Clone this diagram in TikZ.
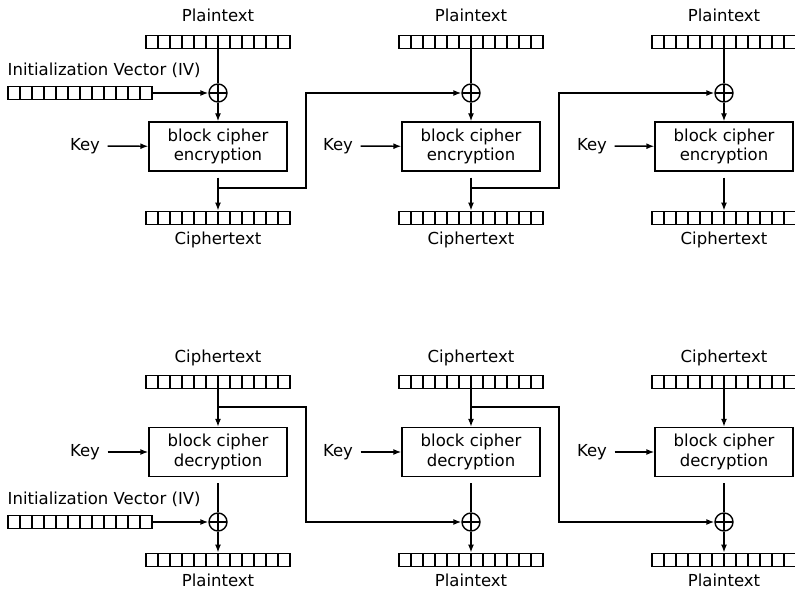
\documentclass[tikz,border=0pt]{standalone}
\usepackage{fontspec}
\setmainfont{DejaVu Sans}
\usepackage{tikz}
\usetikzlibrary{arrows.meta,positioning}
\newcommand{\cbcfont}{\fontsize{9.4}{11}\selectfont}

\begin{document}
\begin{tikzpicture}[line width=0.8pt,
 lbl/.style={font=\cbcfont,inner sep=0pt},
 keylbl/.style={font=\cbcfont,inner sep=4pt},
 reg/.style={draw,inner sep=0pt,minimum width=2.88cm,minimum height=0.27cm,
             path picture={\foreach \k in {1,...,11}
               \draw ([xshift=\k*0.24cm]path picture bounding box.south west)
                  -- ([xshift=\k*0.24cm]path picture bounding box.north west);}},
 xor/.style={circle,draw,inner sep=0pt,minimum size=0.36cm,
             path picture={\draw (path picture bounding box.north) -- (path picture bounding box.south)
                                 (path picture bounding box.west) -- (path picture bounding box.east);}},
 box/.style={draw,align=center,font=\cbcfont,minimum width=2.76cm,minimum height=0.98cm,inner sep=2pt},
 arrow/.style={-{Latex[length=1.6mm,width=1.2mm]}},
 boxout/.style={shorten <=0.12cm}]
 \useasboundingbox (0,0) rectangle (15.9,-11.84);

 % --- encryption row ---
 \node[lbl] (tp1) at (4.36,-0.30) {Plaintext};
 \node[lbl] (tp2) at (9.42,-0.30) {Plaintext};
 \node[lbl] (tp3) at (14.48,-0.30) {Plaintext};
 \node[reg] (tpr1) at (4.36,-0.84) {};
 \node[reg] (tpr2) at (9.42,-0.84) {};
 \node[reg] (tpr3) at (14.48,-0.84) {};
 \node[lbl,anchor=west] (tivl) at (0.14,-1.40) {Initialization Vector (IV)};
 \node[reg] (tivr) at (1.60,-1.86) {};
 \node[xor] (tx1) at (4.36,-1.86) {};
 \node[xor] (tx2) at (9.42,-1.86) {};
 \node[xor] (tx3) at (14.48,-1.86) {};
 \node[box] (enc1) at (4.36,-2.93) {block cipher\\encryption};
 \node[box] (enc2) at (9.42,-2.93) {block cipher\\encryption};
 \node[box] (enc3) at (14.48,-2.93) {block cipher\\encryption};
 \node[keylbl] (tk1) at (1.70,-2.92) {Key};
 \node[keylbl] (tk2) at (6.76,-2.92) {Key};
 \node[keylbl] (tk3) at (11.84,-2.92) {Key};
 \node[reg] (tcr1) at (4.36,-4.36) {};
 \node[reg] (tcr2) at (9.42,-4.36) {};
 \node[reg] (tcr3) at (14.48,-4.36) {};
 \node[lbl] (tc1) at (4.36,-4.80) {Ciphertext};
 \node[lbl] (tc2) at (9.42,-4.80) {Ciphertext};
 \node[lbl] (tc3) at (14.48,-4.80) {Ciphertext};
 \coordinate (tj1) at (4.36,-3.76);
 \coordinate (tj2) at (9.42,-3.76);

 \draw (tpr1) -- (tx1);
 \draw (tpr2) -- (tx2);
 \draw (tpr3) -- (tx3);
 \draw[arrow] (tivr) -- (tx1);
 \draw[arrow] (tx1) -- (enc1);
 \draw[arrow] (tx2) -- (enc2);
 \draw[arrow] (tx3) -- (enc3);
 \draw[arrow,thick] (tk1) -- (enc1);
 \draw[arrow,thick] (tk2) -- (enc2);
 \draw[arrow,thick] (tk3) -- (enc3);
 \draw[arrow,boxout] (enc1) -- (tcr1);
 \draw[arrow,boxout] (enc2) -- (tcr2);
 \draw[arrow,boxout] (enc3) -- (tcr3);
 \draw[arrow] (tj1) -- ++(1.76,0) |- (tx2);
 \draw[arrow] (tj2) -- ++(1.76,0) |- (tx3);

 % --- decryption row ---
 \node[lbl] (bc1) at (4.36,-7.16) {Ciphertext};
 \node[lbl] (bc2) at (9.42,-7.16) {Ciphertext};
 \node[lbl] (bc3) at (14.48,-7.16) {Ciphertext};
 \node[reg] (bcr1) at (4.36,-7.64) {};
 \node[reg] (bcr2) at (9.42,-7.64) {};
 \node[reg] (bcr3) at (14.48,-7.64) {};
 \node[box] (dec1) at (4.36,-9.04) {block cipher\\decryption};
 \node[box] (dec2) at (9.42,-9.04) {block cipher\\decryption};
 \node[box] (dec3) at (14.48,-9.04) {block cipher\\decryption};
 \node[keylbl] (bk1) at (1.70,-9.04) {Key};
 \node[keylbl] (bk2) at (6.76,-9.04) {Key};
 \node[keylbl] (bk3) at (11.84,-9.04) {Key};
 \node[lbl,anchor=west] (bivl) at (0.14,-9.98) {Initialization Vector (IV)};
 \node[reg] (bivr) at (1.60,-10.44) {};
 \node[xor] (bx1) at (4.36,-10.44) {};
 \node[xor] (bx2) at (9.42,-10.44) {};
 \node[xor] (bx3) at (14.48,-10.44) {};
 \node[reg] (bpr1) at (4.36,-11.20) {};
 \node[reg] (bpr2) at (9.42,-11.20) {};
 \node[reg] (bpr3) at (14.48,-11.20) {};
 \node[lbl] (bp1) at (4.36,-11.60) {Plaintext};
 \node[lbl] (bp2) at (9.42,-11.60) {Plaintext};
 \node[lbl] (bp3) at (14.48,-11.60) {Plaintext};
 \coordinate (bj1) at (4.36,-8.14);
 \coordinate (bj2) at (9.42,-8.14);

 \draw[arrow] (bcr1) -- (dec1);
 \draw[arrow] (bcr2) -- (dec2);
 \draw[arrow] (bcr3) -- (dec3);
 \draw[arrow] (bk1) -- (dec1);
 \draw[arrow] (bk2) -- (dec2);
 \draw[arrow] (bk3) -- (dec3);
 \draw[boxout] (dec1) -- (bx1);
 \draw[boxout] (dec2) -- (bx2);
 \draw[boxout] (dec3) -- (bx3);
 \draw[arrow] (bivr) -- (bx1);
 \draw[arrow] (bx1) -- (bpr1);
 \draw[arrow] (bx2) -- (bpr2);
 \draw[arrow] (bx3) -- (bpr3);
 \draw[arrow] (bj1) -- ++(1.76,0) |- (bx2);
 \draw[arrow] (bj2) -- ++(1.76,0) |- (bx3);
\end{tikzpicture}
\end{document}
